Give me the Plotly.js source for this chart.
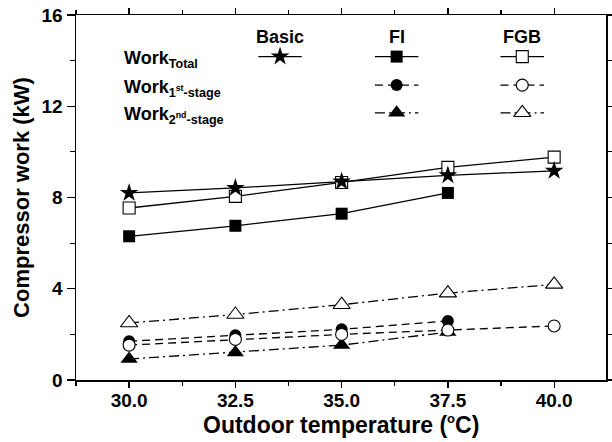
<!DOCTYPE html>
<html>
<head>
<meta charset="utf-8">
<script src="https://cdn.plot.ly/plotly-3.0.1.min.js"></script>
<style>html,body{margin:0;padding:0;background:#fff}#chart{width:612px;height:442px}</style>
</head>
<body>
<div id="chart"></div>
<script>
// ---- data ----
const temps = [30.0, 32.5, 35.0, 37.5, 40.0];
const tempsFI = [30.0, 32.5, 35.0, 37.5];
const basicTotal = [8.20, 8.42, 8.70, 8.97, 9.17];
const fiTotal = [6.30, 6.76, 7.29, 8.20];
const fiStage1 = [1.70, 1.96, 2.22, 2.59];
const fiStage2 = [0.92, 1.21, 1.53, 2.10];
const fgbTotal = [7.54, 8.05, 8.66, 9.32, 9.77];
const fgbStage1 = [1.53, 1.78, 2.00, 2.19, 2.37];
const fgbStage2 = [2.50, 2.87, 3.30, 3.81, 4.19];
const xTickVals = [30.0, 32.5, 35.0, 37.5, 40.0];
const xTickText = ['30.0', '32.5', '35.0', '37.5', '40.0'];
const yTickVals = [0, 4, 8, 12, 16];
const columnNames = ['Basic', 'FI', 'FGB'];
const rowNames = ['Work<sub>Total</sub>', 'Work<sub>1<sup>st</sup>-stage</sub>', 'Work<sub>2<sup>nd</sup>-stage</sub>'];
const xTitle = 'Outdoor temperature (<sup><span style="font-size:13px">o</span></sup>C)';
const yTitle = 'Compressor work (kW)';

const FONT = 'Liberation Sans, Arial, sans-serif';
const LW = 1.3;
const DASH1 = '8px,5px';
const DASH2 = '10px,4px,2px,4px';

function style(sym, fill, size, dash) {
  return {
    line: {color: 'black', width: LW, dash: dash},
    marker: {symbol: sym, size: size, color: fill, line: {color: 'black', width: fill === 'white' ? 1.1 : 0}}
  };
}
const S = {
  basicT: style('star', 'black', 14, 'solid'),
  fiT: style('square', 'black', 12, 'solid'),
  fi1: style('circle', 'black', 12, DASH1),
  fi2: style('triangle-up', 'black', 15, DASH2),
  fgbT: style('square', 'white', 12, 'solid'),
  fgb1: style('circle', 'white', 12, DASH1),
  fgb2: style('triangle-up', 'white', 15, DASH2)
};

function tr(x, y, s) {
  return {x: x, y: y, type: 'scatter', mode: 'lines+markers', line: s.line, marker: s.marker, showlegend: false, hoverinfo: 'skip', cliponaxis: false};
}

const traces = [
  tr(tempsFI, fiTotal, S.fiT),
  tr(temps, fgbTotal, S.fgbT),
  tr(temps, basicTotal, S.basicT),
  tr(tempsFI, fiStage2, S.fi2),
  tr(tempsFI, fiStage1, S.fi1),
  tr(temps, fgbStage2, S.fgb2),
  tr(temps, fgbStage1, S.fgb1)
];

// ---- legend samples on a hidden overlay axis (0..1 = plot area) ----
const colX = [0.385, 0.605, 0.842];
const rowY = [0.886, 0.808, 0.732];
const half = 0.041;
function sample(cx, cy, s) {
  traces.push({x: [cx - half, cx + half], y: [cy, cy], xaxis: 'x2', yaxis: 'y2', type: 'scatter', mode: 'lines',
    line: s.line, showlegend: false, hoverinfo: 'skip'});
  traces.push({x: [cx], y: [cy], xaxis: 'x2', yaxis: 'y2', type: 'scatter', mode: 'markers',
    marker: s.marker, showlegend: false, hoverinfo: 'skip'});
}
sample(colX[0], rowY[0], S.basicT);
sample(colX[1], rowY[0], S.fiT);
sample(colX[1], rowY[1], S.fi1);
sample(colX[1], rowY[2], S.fi2);
sample(colX[2], rowY[0], S.fgbT);
sample(colX[2], rowY[1], S.fgb1);
sample(colX[2], rowY[2], S.fgb2);

const annotations = [];
columnNames.forEach((n, i) => annotations.push({
  text: n, xref: 'paper', yref: 'paper', x: colX[i], y: 0.941, xanchor: 'center', yanchor: 'middle',
  showarrow: false, font: {family: FONT, size: 18, color: 'black', weight: 'bold'}
}));
rowNames.forEach((n, i) => annotations.push({
  text: n, xref: 'paper', yref: 'paper', x: 0.086, y: rowY[i], xanchor: 'left', yanchor: 'middle', yshift: -3,
  showarrow: false, font: {family: FONT, size: 18, color: 'black', weight: 'bold'}
}));
annotations.push({
  text: xTitle, xref: 'paper', yref: 'paper', x: 0.5, y: -0.122, xanchor: 'center', yanchor: 'middle',
  showarrow: false, font: {family: FONT, size: 23, color: 'black', weight: 'bold'}
});

const axisCommon = {
  showline: true, linecolor: 'black', linewidth: 1.5, mirror: 'ticks', showgrid: false, zeroline: false,
  ticks: 'outside', tickcolor: 'black', tickwidth: 1.3,
  tickfont: {family: FONT, size: 19, color: 'black', weight: 'bold'}
};

const layout = {
  width: 612, height: 442,
  margin: {l: 76, r: 6, t: 15, b: 62},
  paper_bgcolor: 'white', plot_bgcolor: 'white',
  font: {family: FONT, color: 'black'},
  xaxis: Object.assign({}, axisCommon, {
    range: [28.75, 41.22], tickvals: xTickVals, ticktext: xTickText, ticklen: 6, ticklabelstandoff: -3,
    minor: {dtick: 1.25, tick0: 30, ticks: 'outside', ticklen: 4, tickcolor: 'black', tickwidth: 1.2}
  }),
  yaxis: Object.assign({}, axisCommon, {
    range: [0, 16], tickvals: yTickVals, ticklen: 8,
    minor: {dtick: 2, tick0: 0, ticks: 'outside', ticklen: 5, tickcolor: 'black', tickwidth: 1.2},
    title: {text: yTitle, standoff: 6, font: {family: FONT, size: 22, color: 'black', weight: 'bold'}}
  }),
  xaxis2: {overlaying: 'x', range: [0, 1], visible: false, fixedrange: true},
  yaxis2: {overlaying: 'y', range: [0, 1], visible: false, fixedrange: true},
  annotations: annotations,
  showlegend: false
};

Plotly.newPlot('chart', traces, layout, {staticPlot: true});
</script>
</body>
</html>
